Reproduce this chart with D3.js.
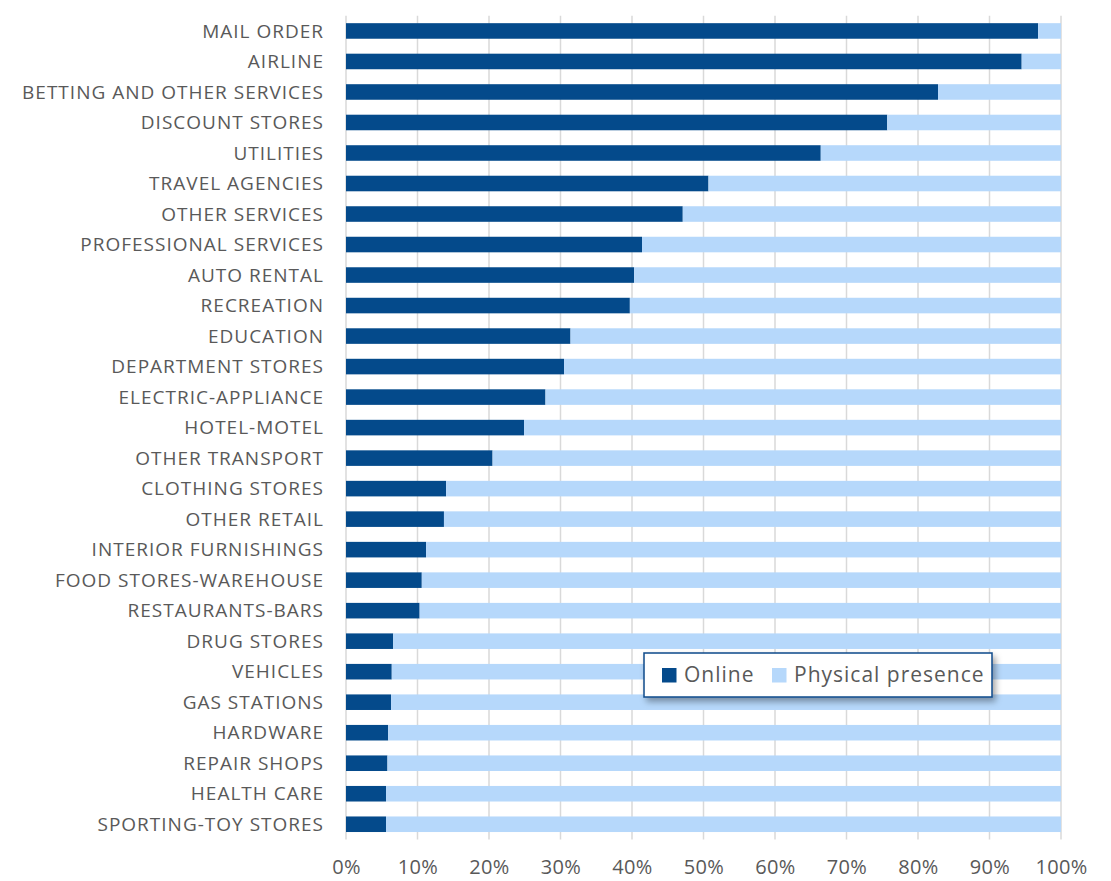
<!DOCTYPE html>
<html><head><meta charset="utf-8">
<script src="https://cdn.jsdelivr.net/npm/d3@7"></script>
<style>html,body{margin:0;padding:0;background:#fff}</style>
</head><body>
<svg id="chart" width="1111" height="881"></svg>
<script>
const categories = ["MAIL ORDER","AIRLINE","BETTING AND OTHER SERVICES","DISCOUNT STORES","UTILITIES","TRAVEL AGENCIES","OTHER SERVICES","PROFESSIONAL SERVICES","AUTO RENTAL","RECREATION","EDUCATION","DEPARTMENT STORES","ELECTRIC-APPLIANCE","HOTEL-MOTEL","OTHER TRANSPORT","CLOTHING STORES","OTHER RETAIL","INTERIOR FURNISHINGS","FOOD STORES-WAREHOUSE","RESTAURANTS-BARS","DRUG STORES","VEHICLES","GAS STATIONS","HARDWARE","REPAIR SHOPS","HEALTH CARE","SPORTING-TOY STORES"];
const online = [96.8,94.5,82.8,75.7,66.4,50.7,47.1,41.4,40.3,39.7,31.4,30.5,27.9,24.9,20.5,14.0,13.7,11.2,10.6,10.3,6.6,6.4,6.3,5.9,5.8,5.6,5.6];
const physical = [3.2,5.5,17.2,24.3,33.6,49.3,52.9,58.6,59.7,60.3,68.6,69.5,72.1,75.1,79.5,86.0,86.3,88.8,89.4,89.7,93.4,93.6,93.7,94.1,94.2,94.4,94.4];
const seriesNames = ["Online","Physical presence"];
const seriesColors = ["#044a8b","#b6d8fb"];
const tickValues = [0,10,20,30,40,50,60,70,80,90,100];

const svg = d3.select("#chart");
const margin = {left:346, right:50, top:15.7, bottom:41.5};
const W = 1111, H = 881;
const x = d3.scaleLinear().domain([0,100]).range([margin.left, W - margin.right]);
const y = d3.scaleBand().domain(categories).range([margin.top, H - margin.bottom]).paddingInner(0.49).paddingOuter(0.245);

// gridlines
svg.append("g").selectAll("line").data(tickValues).join("line")
  .attr("x1", d => x(d)).attr("x2", d => x(d))
  .attr("y1", margin.top).attr("y2", H - margin.bottom)
  .attr("stroke", "#d9d9d9").attr("stroke-width", 1.5);

const rows = categories.map((c,i) => ({c, vals:[online[i], physical[i]]}));
const stack = d3.stack().keys([0,1]).value((d,k) => d.vals[k]);
const stacked = stack(rows);

svg.append("g").selectAll("g").data(stacked).join("g")
  .attr("fill", (d,i) => seriesColors[i])
  .selectAll("rect").data(d => d).join("rect")
  .attr("x", d => x(d[0]))
  .attr("width", d => x(d[1]) - x(d[0]))
  .attr("y", d => y(d.data.c))
  .attr("height", y.bandwidth());

// category labels
svg.append("g").selectAll("text").data(categories).join("text")
  .attr("x", margin.left - 22)
  .attr("y", d => y(d) + y.bandwidth()/2)
  .attr("dy", "0.35em")
  .attr("text-anchor", "end")
  .attr("font-family", "Open Sans")
  .attr("font-size", 19)
  .attr("letter-spacing", 1)
  .attr("fill", "#595959")
  .text(d => d);

// x axis
const xAxis = d3.axisBottom(x).tickValues(tickValues).tickFormat(d => d + "%").tickSize(0).tickPadding(0);
const ax = svg.append("g").attr("transform", `translate(0,${H - margin.bottom})`).call(xAxis);
ax.select(".domain").remove();
ax.selectAll("text").attr("font-family","Open Sans").attr("font-size", 20).attr("letter-spacing", 0.3).attr("fill","#595959").attr("dy", null).attr("y", 34.5);

// legend
const defs = svg.append("defs");
const f = defs.append("filter").attr("id","sh").attr("x","-10%").attr("y","-30%").attr("width","130%").attr("height","180%");
f.append("feDropShadow").attr("dx",3).attr("dy",4).attr("stdDeviation",3).attr("flood-color","#000").attr("flood-opacity",0.35);
const lg = svg.append("g").attr("transform","translate(644,653)");
lg.append("rect").attr("width",348).attr("height",44).attr("fill","#fff").attr("stroke","#0b4a8a").attr("stroke-width",1.5).attr("filter","url(#sh)");
const itemX = [18, 128];
seriesNames.forEach((n,i) => {
  const g = lg.append("g").attr("transform",`translate(${itemX[i]},0)`);
  g.append("rect").attr("x",0).attr("y",15).attr("width",14.5).attr("height",14.5).attr("fill",seriesColors[i]);
  g.append("text").attr("x",22).attr("y",22).attr("dy","0.35em").attr("font-family","Open Sans").attr("font-size",21).attr("letter-spacing",1).attr("fill","#595959").text(n);
});
</script>
</body></html>
